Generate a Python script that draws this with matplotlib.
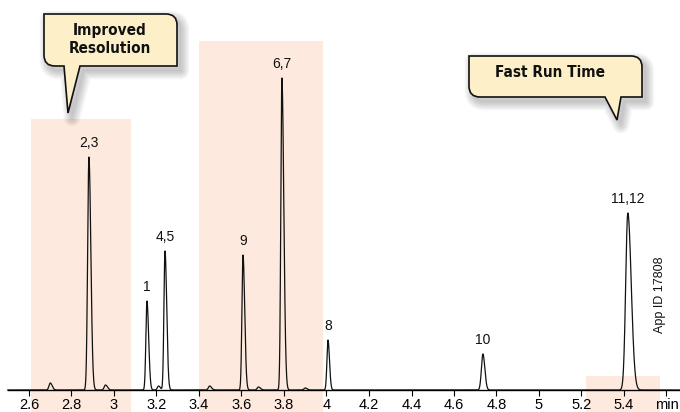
"""Chromatogram with highlighted regions and callouts."""

import matplotlib
import matplotlib.pyplot as plt
import numpy as np
from matplotlib.patches import PathPatch, Rectangle
from matplotlib.path import Path
from matplotlib.transforms import Affine2D

matplotlib.use("Agg")

# Peak table: retention time (min), height, sigma left, sigma right
peak_times = [2.70, 2.882, 2.96, 3.155, 3.21, 3.24, 3.45, 3.607, 3.68, 3.79, 3.90, 4.007, 4.736, 5.418]
peak_heights = [7, 233, 5, 89, 4, 139, 4, 135, 3, 312, 2, 50, 36, 177]
peak_sig_l = [0.006, 0.006, 0.006, 0.005, 0.006, 0.005, 0.006, 0.005, 0.006, 0.005, 0.006, 0.005, 0.007, 0.010]
peak_sig_r = [0.009, 0.009, 0.009, 0.008, 0.008, 0.008, 0.009, 0.008, 0.009, 0.009, 0.009, 0.007, 0.009, 0.016]

# Labels for the main peaks
label_times = [2.882, 3.155, 3.24, 3.607, 3.79, 4.007, 4.736, 5.418]
label_heights = [233, 89, 139, 135, 312, 50, 36, 177]
label_texts = ["2,3", "1", "4,5", "9", "6,7", "8", "10", "11,12"]

# Shaded regions: (start, end, top)
shade_start = [2.61, 3.40, 5.22]
shade_end = [3.08, 3.983, 5.57]
shade_top = [271, 349, 14]

ticks = [2.6, 2.8, 3.0, 3.2, 3.4, 3.6, 3.8, 4.0, 4.2, 4.4, 4.6, 4.8, 5.0, 5.2, 5.4, 5.6]
tick_labels = ["2.6", "2.8", "3", "3.2", "3.4", "3.6", "3.8", "4", "4.2", "4.4",
               "4.6", "4.8", "5", "5.2", "5.4", "min"]

FONT = ["Liberation Sans", "DejaVu Sans"]
SHADE = "#fde9dd"
CALLOUT = "#fdf0c8"

# Build trace
t = np.linspace(2.5, 5.66, 6000)
signal = np.zeros_like(t)
for rt, h, sl, sr in zip(peak_times, peak_heights, peak_sig_l, peak_sig_r):
    sig = np.where(t < rt, sl, sr)
    signal += h * np.exp(-0.5 * ((t - rt) / sig) ** 2)

fig = plt.figure(figsize=(6.8, 4.12), dpi=100)
ax = fig.add_axes([0, 0, 1, 1])
ax.set_xlim(2.6 - 29 / 212.5, 2.6 + 651 / 212.5)
ax.set_ylim(-22, 390)

for s, e, top in zip(shade_start, shade_end, shade_top):
    ax.add_patch(Rectangle((s, -22), e - s, top + 22, facecolor=SHADE,
                           edgecolor="none", zorder=0))

ax.plot(t, signal, color="#111111", lw=0.9, zorder=2)

for rt, h, txt in zip(label_times, label_heights, label_texts):
    ax.text(rt, h + 7, txt, ha="center", va="bottom", fontsize=10,
            family=FONT, color="#111111")

ax.text(5.57, 95, "App ID 17808", rotation=90, ha="center", va="center",
        fontsize=9, family=FONT, color="#111111")

for side in ["left", "right", "top"]:
    ax.spines[side].set_visible(False)
ax.spines["bottom"].set_position(("data", 0))
ax.spines["bottom"].set_bounds(2.5, 5.67)
ax.spines["bottom"].set_linewidth(1.0)
ax.set_yticks([])
ax.set_xticks(ticks)
ax.set_xticklabels(tick_labels, family=FONT, fontsize=10.5)
ax.tick_params(axis="x", direction="out", length=4, width=0.8, pad=1.5)
ax.set_facecolor("none")

# Overlay in pixel coordinates for the callouts
ov = fig.add_axes([0, 0, 1, 1])
ov.set_xlim(0, 680)
ov.set_ylim(412, 0)
ov.axis("off")


def callout_path(x0, y0, x1, y1, pb0, pb1, tip, r=11):
    verts = [
        (x0, y0), (x1 - r, y0), (x1, y0), (x1, y0 + r), (x1, y1),
        (pb1, y1), tip, (pb0, y1), (x0 + r, y1), (x0, y1), (x0, y1 - r),
        (x0, y0), (x0, y0),
    ]
    codes = [
        Path.MOVETO, Path.LINETO, Path.CURVE3, Path.CURVE3, Path.LINETO,
        Path.LINETO, Path.LINETO, Path.LINETO, Path.LINETO, Path.CURVE3,
        Path.CURVE3, Path.LINETO, Path.CLOSEPOLY,
    ]
    return Path(verts, codes)


def draw_callout(path, text, cx, cy):
    shifted = path.transformed(Affine2D().translate(4, 5))
    for i in range(6):
        ov.add_patch(PathPatch(shifted, facecolor="none", edgecolor="black",
                               lw=12 - 2 * i, alpha=0.035, joinstyle="round",
                               zorder=3))
    ov.add_patch(PathPatch(shifted, facecolor="#bbbbbb", edgecolor="none",
                           alpha=0.35, zorder=3))
    ov.add_patch(PathPatch(path, facecolor=CALLOUT, edgecolor="#111111",
                           lw=1.2, zorder=4))
    ov.text(cx, cy, text, ha="center", va="center", fontsize=11,
            fontweight="bold", fontstretch="condensed", family="DejaVu Sans",
            color="#111111", linespacing=1.25, zorder=5)


draw_callout(callout_path(44, 14, 177, 66, 64, 80, (68, 113)),
             "Improved\nResolution", 110, 39)
draw_callout(callout_path(469, 56, 642, 97, 605, 621, (617, 120)),
             "Fast Run Time", 550, 72)

fig.savefig("out.png", dpi=100)
plt.close(fig)
